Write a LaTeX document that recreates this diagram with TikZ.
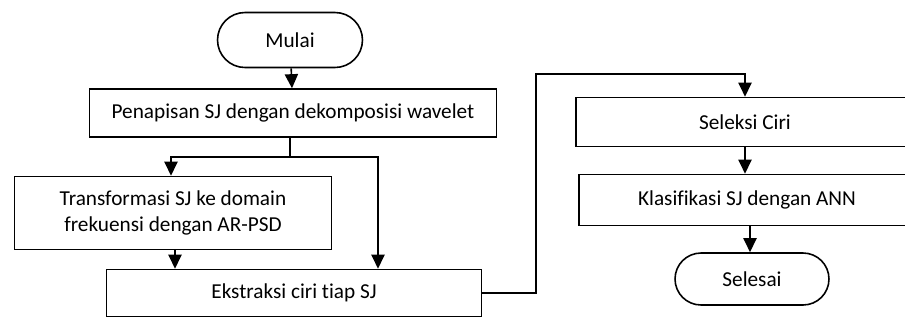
\documentclass[tikz,border=0pt]{standalone}
\usepackage{fontspec}
\setmainfont[Ligatures=NoCommon]{Carlito}
\usepackage{tikz}
\usetikzlibrary{
    arrows.meta,
    shapes.misc,
    calc,
    positioning
}

\tikzset{
    terminal/.style={draw, rounded rectangle, line width=0.9pt, minimum width=2.9cm, minimum height=1.1cm, inner sep=0pt},
    process/.style={draw, rectangle, line width=0.9pt, align=center, inner sep=0pt},
    flow/.style={line width=0.9pt, -{Triangle[length=8pt, width=7.5pt]}}
}

\begin{document}
\begin{tikzpicture}[x=0.02cm, y=-0.02cm, font=\fontsize{12.1}{15}\selectfont]
                    \clip (0, 0) rectangle (905, 322);

                    \node[terminal] (mulai) at (290, 40) {Mulai};
                    \node[process, minimum width=8.14cm, minimum height=0.96cm] (penapisan) at (293, 113) {Penapisan SJ dengan dekomposisi wavelet};
                    \node[process, minimum width=6.34cm, minimum height=1.46cm] (transformasi) at (173, 213) {Transformasi SJ ke domain\\frekuensi dengan AR-PSD};
                    \node[process, minimum width=7.5cm, minimum height=0.94cm] (ekstraksi) at (294, 293) {Ekstraksi ciri tiap SJ};

                    \node[process, minimum width=6.76cm, minimum height=0.98cm] (seleksi) at (745, 122) {Seleksi Ciri};
                    \node[process, minimum width=6.72cm, minimum height=1.02cm] (klasifikasi) at (747, 200) {Klasifikasi SJ dengan ANN};
                    \node[terminal, minimum width=3.08cm, minimum height=1.04cm] (selesai) at (752, 279) {Selesai};

                    \coordinate (split) at (290, 157);
                    \coordinate (kiri) at (171, 157);
                    \coordinate (kanan) at (378, 157);
                    \coordinate (naik) at (536, 74);

                    \draw[flow] (mulai) -- (penapisan);
                    \draw[line width=0.9pt] (penapisan.south -| split) -- (split);
                    \draw[flow] (split) -- (kiri) -- (kiri |- transformasi.north);
                    \draw[flow] (split) -- (kanan) -- (kanan |- ekstraksi.north);
                    \draw[flow] (transformasi.south -| 175, 0) -- (175, 0 |- ekstraksi.north);
                    \draw[flow] (ekstraksi.east) -- (naik |- ekstraksi.east) -- (naik) -| (seleksi.north);
                    \draw[flow] (seleksi) -- (klasifikasi.north -| seleksi.south);
                    \draw[flow] (klasifikasi.south -| 750, 0) -- (750, 0 |- selesai.north);
                \end{tikzpicture}
\end{document}
